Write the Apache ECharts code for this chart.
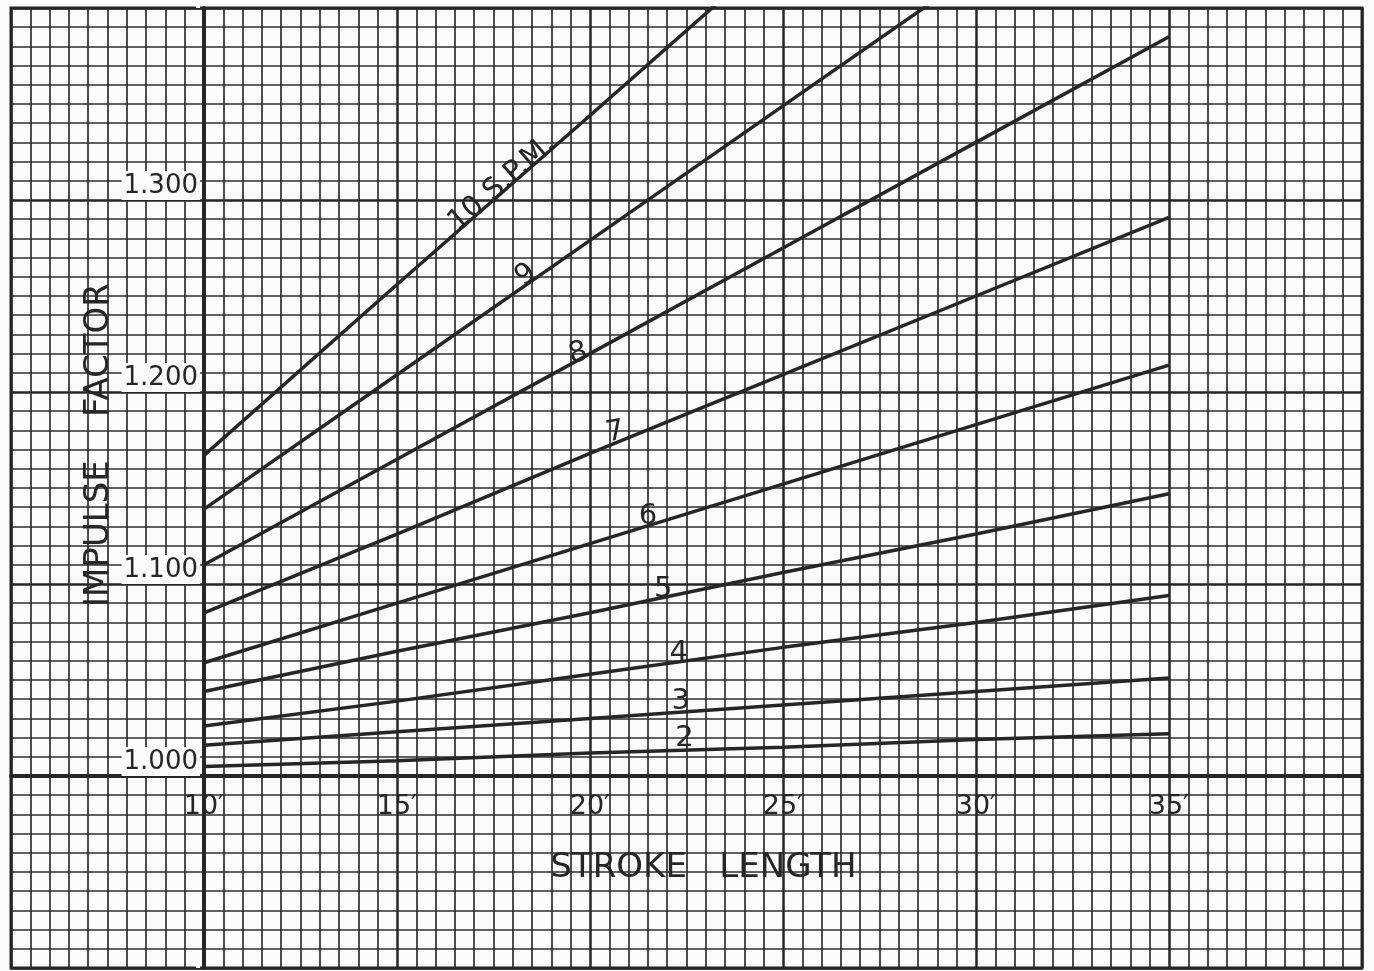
<!DOCTYPE html>
<html>
<head>
<meta charset="utf-8">
<title>Impulse factor vs stroke length</title>
<script src="https://cdn.jsdelivr.net/npm/echarts@6/dist/echarts.min.js"></script>
<style>
  html, body { margin: 0; padding: 0; background: #fbfbfb; }
  #chart { width: 1374px; height: 971px; }
</style>
</head>
<body>
<div id="chart"></div>
<script>
// stroke length (ft) where the curves were read
var strokeFt = [10, 15, 20, 25, 30, 35]
// 9 and 10 SPM run off the top of the sheet
var strokeFt9 = [10, 15, 20, 25, 29]
var strokeFt10 = [10, 15, 20, 23.5]

// impulse factor per strokes-per-minute curve
var spm2 = [1.005, 1.008, 1.012, 1.015, 1.019, 1.022]
var spm3 = [1.016, 1.023, 1.030, 1.037, 1.044, 1.051]
var spm4 = [1.026, 1.039, 1.053, 1.067, 1.080, 1.094]
var spm5 = [1.044, 1.065, 1.085, 1.106, 1.126, 1.147]
var spm6 = [1.059, 1.090, 1.121, 1.152, 1.183, 1.214]
var spm7 = [1.085, 1.126, 1.168, 1.209, 1.250, 1.291]
var spm8 = [1.110, 1.165, 1.220, 1.275, 1.330, 1.385]
var spm9 = [1.139, 1.209, 1.279, 1.349, 1.405]
var spm10 = [1.167, 1.256, 1.344, 1.406]

var xTickLabels = [10, 15, 20, 25, 30, 35]
var yTickLabels = ['1.000', '1.100', '1.200', '1.300']

var ink = '#262626'
var font = 'DejaVu Sans'

// straight-line read of a curve at x, used to sit the curve numbers on it
function along(xs, ys, x) {
  for (var i = 1; i < xs.length; i++) {
    if (x <= xs[i]) {
      var t = (x - xs[i - 1]) / (xs[i] - xs[i - 1])
      return ys[i - 1] + t * (ys[i] - ys[i - 1])
    }
  }
  return ys[ys.length - 1]
}

function curve(name, xs, ys, at, rot, off) {
  return {
    name: name,
    type: 'line',
    symbol: 'none',
    silent: true,
    lineStyle: { color: ink, width: 3.5 },
    data: xs.map(function (x, i) { return [x, ys[i]] }),
    markPoint: {
      symbol: 'circle',
      symbolSize: 1,
      itemStyle: { color: 'rgba(0,0,0,0)' },
      label: {
        show: true,
        position: 'inside',
        formatter: name,
        rotate: rot,
        offset: off,
        color: ink,
        fontFamily: font,
        fontSize: 29
      },
      data: [{ coord: [at, along(xs, ys, at)] }]
    }
  }
}

var myChart = echarts.init(document.getElementById('chart'))

var option = {
  backgroundColor: '#fbfbfb',
  animation: false,
  grid: {
    left: 11, right: 12, top: 8, bottom: 3,
    show: true,
    borderColor: ink,
    borderWidth: 3
  },
  xAxis: {
    type: 'value',
    min: 5,
    max: 40,
    interval: 5,
    offset: -192,
    axisLine: { show: true, onZero: false, lineStyle: { color: ink, width: 4 } },
    axisTick: { show: false },
    splitLine: { show: true, lineStyle: { color: ink, width: 2.5 } },
    minorTick: { show: false, splitNumber: 10 },
    minorSplitLine: { show: true, lineStyle: { color: '#2e2e2e', width: 1.7 } },
    axisLabel: {
      margin: 17,
      color: ink,
      fontFamily: font,
      fontSize: 27,
      formatter: function (v) {
        return xTickLabels.indexOf(v) >= 0 ? v + '′' : ''
      }
    },
    name: 'STROKE   LENGTH',
    nameLocation: 'middle',
    nameGap: 75,
    nameMoveOverlap: false,
    nameTextStyle: { color: ink, fontFamily: font, fontSize: 34, padding: [0, 0, 0, 34] }
  },
  yAxis: {
    type: 'value',
    min: 0.9,
    max: 1.4,
    interval: 0.1,
    offset: -193,
    axisLine: { show: true, lineStyle: { color: ink, width: 4 } },
    axisTick: { show: false },
    splitLine: { show: true, lineStyle: { color: ink, width: 2.5 } },
    minorTick: { show: false, splitNumber: 10 },
    minorSplitLine: { show: true, lineStyle: { color: '#2e2e2e', width: 1.7 } },
    axisLabel: {
      margin: 4,
      color: ink,
      fontFamily: font,
      fontSize: 26,
      verticalAlign: 'bottom',
      backgroundColor: '#fbfbfb',
      padding: [2, 2, 1, 2],
      formatter: function (v) {
        var s = v.toFixed(3)
        return yTickLabels.indexOf(s) >= 0 ? s : ''
      }
    },
    name: 'IMPULSE    FACTOR',
    nameLocation: 'middle',
    nameRotate: 90,
    nameGap: 88,
    nameMoveOverlap: false,
    nameTextStyle: { color: ink, fontFamily: font, fontSize: 34, padding: [0, 0, 0, 86] }
  },
  series: [
    curve('2', strokeFt, spm2, 22.45, 0, [0, -12]),
    curve('3', strokeFt, spm3, 22.35, 0, [0, -11]),
    curve('4', strokeFt, spm4, 22.3, 0, [0, -8]),
    curve('5', strokeFt, spm5, 21.9, 0, [0, -8]),
    curve('6', strokeFt, spm6, 21.5, 0, [0, -9]),
    curve('7', strokeFt, spm7, 20.7, 10, [0, -10]),
    curve('8', strokeFt, spm8, 19.8, 15, [-3, -5]),
    curve('9', strokeFt9, spm9, 18.55, 36, [-4, -8]),
    curve('10 S.P.M.', strokeFt10, spm10, 17.95, 41, [-6, -7])
  ]
}

myChart.setOption(option)
</script>
</body>
</html>
